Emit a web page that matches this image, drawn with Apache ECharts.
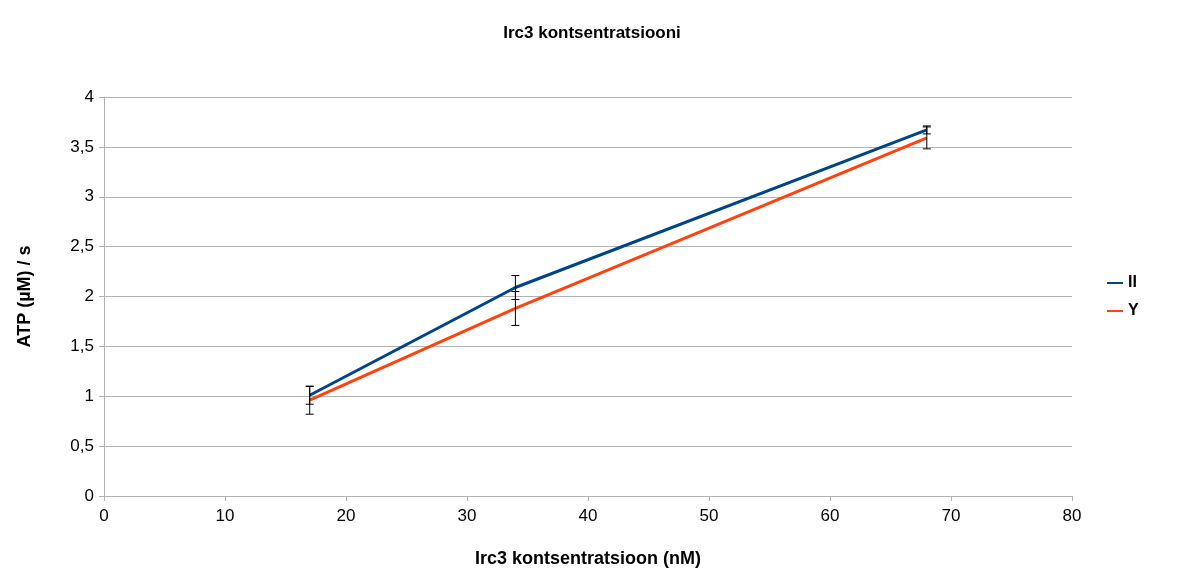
<!DOCTYPE html>
<html><head><meta charset="utf-8">
<script src="https://cdn.jsdelivr.net/npm/echarts@6/dist/echarts.min.js"></script>
<style>html,body{margin:0;padding:0;background:#fff}#c{width:1184px;height:573px}</style>
</head><body><div id="c"></div>
<script>
const xValues = [17, 34, 68];
const seriesII = [1.01, 2.09, 3.67];
const seriesY = [0.96, 1.88, 3.59];
const errII = [0.09, 0.12, 0.04];
const errY = [0.14, 0.17, 0.11];
const yTickLabels = ['0','0,5','1','1,5','2','2,5','3','3,5','4'];

const font = 'Liberation Sans, Arial, sans-serif';
function pairs(vals){ return xValues.map((x,i)=>[x, vals[i]]); }
function errData(vals, errs){ return xValues.map((x,i)=>[x, vals[i]-errs[i], vals[i]+errs[i]]); }
function errSeries(vals, errs){
  return {
    type:'custom', silent:true, z:5,
    data: errData(vals, errs),
    renderItem: function(params, api){
      const lo = api.coord([api.value(0), api.value(1)]);
      const hi = api.coord([api.value(0), api.value(2)]);
      const w = 4;
      const st = {stroke:'#000', lineWidth:1};
      return {type:'group', children:[
        {type:'line', shape:{x1:lo[0],y1:lo[1],x2:hi[0],y2:hi[1]}, style:st},
        {type:'line', shape:{x1:lo[0]-w,y1:lo[1],x2:lo[0]+w,y2:lo[1]}, style:st},
        {type:'line', shape:{x1:hi[0]-w,y1:hi[1],x2:hi[0]+w,y2:hi[1]}, style:st}
      ]};
    }
  };
}
const chart = echarts.init(document.getElementById('c'));
chart.setOption({
  animation:false,
  textStyle:{fontFamily:font},
  title:{text:'Irc3 kontsentratsiooni', left:'center', top:20,
    textStyle:{fontSize:17, fontWeight:'bold', color:'#000', fontFamily:font}},
  grid:{left:104, right:112, top:97, bottom:77, containLabel:false, outerBoundsMode:'none'},
  legend:{
    orient:'vertical', left:1102, top:270, itemGap:12,
    icon:'rect', itemWidth:16, itemHeight:2,
    textStyle:{fontSize:16, fontWeight:'bold', color:'#000', fontFamily:font},
    data:['II','Y']
  },
  xAxis:{
    type:'value', min:0, max:80, interval:10,
    name:'Irc3 kontsentratsioon (nM)', nameLocation:'middle', nameGap:54,
    nameTextStyle:{fontSize:18, fontWeight:'bold', color:'#000', fontFamily:font},
    axisLine:{show:true, lineStyle:{color:'#b3b3b3'}},
    axisTick:{show:true, length:5, lineStyle:{color:'#b3b3b3'}},
    axisLabel:{fontSize:17, color:'#000', margin:12},
    splitLine:{show:false}
  },
  yAxis:{
    type:'value', min:0, max:4, interval:0.5,
    name:'ATP (µM) / s', nameLocation:'middle', nameGap:70,
    nameTextStyle:{fontSize:18, fontWeight:'bold', color:'#000', fontFamily:font},
    axisLine:{show:true, lineStyle:{color:'#b3b3b3'}},
    axisTick:{show:true, length:5, lineStyle:{color:'#b3b3b3'}},
    axisLabel:{fontSize:17, color:'#000', margin:10,
      formatter:function(v){ return yTickLabels[Math.round(v*2)]; }},
    splitLine:{show:true, lineStyle:{color:'#b3b3b3'}}
  },
  series:[
    {name:'II', type:'line', data:pairs(seriesII), showSymbol:false, symbol:'none',
      lineStyle:{color:'#004586', width:3}, itemStyle:{color:'#004586'}, z:3},
    {name:'Y', type:'line', data:pairs(seriesY), showSymbol:false, symbol:'none',
      lineStyle:{color:'#ff420e', width:3}, itemStyle:{color:'#ff420e'}, z:2},
    errSeries(seriesII, errII),
    errSeries(seriesY, errY)
  ]
});
</script></body></html>
